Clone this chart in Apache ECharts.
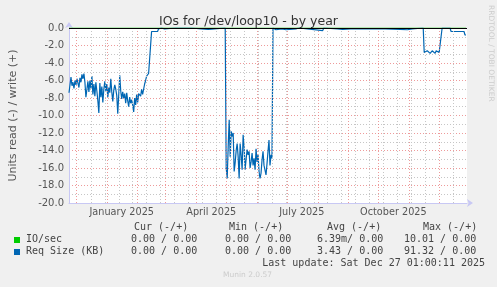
<!DOCTYPE html>
<html>
<head>
<meta charset="utf-8">
<script src="https://cdn.jsdelivr.net/npm/echarts@6/dist/echarts.min.js"></script>
<style>
html, body { margin: 0; padding: 0; background: #f0f0f0; }
#chart { width: 497px; height: 287px; }
</style>
</head>
<body>
<div id="chart"></div>
<script>
// x = days since 2024-11-24, the graph window is 400 days
const monthStarts = [7, 38, 69, 97, 128, 158, 189, 219, 250, 281, 311, 342, 372]
const minorDays = [22, 36, 50, 64, 78, 92, 106, 120, 134, 148, 162, 176, 190, 204, 218, 232, 246, 260, 274, 288, 302, 316, 330, 344, 358, 386]
const labelDays = [53, 143, 234, 326]
const labelNames = ['January 2025', 'April 2025', 'July 2025', 'October 2025']

// req size (read, drawn negative), daily
const winterStart = 0
const winterRead = [
  -7.4, -7.3, -5.6, -6.6, -6.2, -6.9, -6.0, -6.5, -5.8, -6.3,
  -6.8, -5.7, -6.2, -5.3, -5.8, -5.2, -6.2, -7.9, -7.0, -6.1,
  -7.3, -6.0, -6.9, -5.5, -7.6, -6.4, -7.8, -6.2, -7.2, -8.3,
  -9.7, -6.3, -7.9, -6.7, -8.5, -7.0, -6.1, -7.2, -6.4, -7.9,
  -6.8, -7.4, -5.8, -7.3, -8.4, -7.1, -6.5, -7.0, -7.7, -9.8,
  -7.6, -5.4, -7.2, -8.1, -7.3, -8.0, -7.5, -8.6, -7.4, -8.3,
  -9.0, -7.9, -8.6, -8.2, -8.8, -9.6, -8.0, -8.8, -7.6, -8.5,
  -7.5, -7.3, -7.8, -7.0, -7.6, -7.7, -6.4, -6.0, -5.5, -5.4,
  -5.2, -5.3, -5.0
]
const springQuiet = [
  [83, -0.4], [89, -0.4], [90, -0.1], [93, 0], [96, -0.1], [97, 0], [107, 0], [108, -0.2],
  [109, 0], [123, 0], [124, -0.2], [125, 0], [133, -0.1], [134, 0], [140, -0.15], [141, 0],
  [146, -0.1], [147, 0], [157, 0]
]
const aprJunStart = 158
const aprJunRead = [
  -16.0, -17.2, -13.5, -10.5, -14.7, -11.8, -12.4, -12.0, -16.4, -15.4,
  -14.0, -13.2, -14.7, -17.2, -13.2, -14.5, -16.2, -12.2, -13.6, -16.2,
  -15.0, -13.9, -14.5, -14.1, -16.0, -15.3, -14.3, -15.7, -14.9, -16.2,
  -13.8, -15.3, -14.5, -16.4, -17.2, -16.6, -15.1, -14.1, -15.7, -15.9,
  -16.8, -15.5, -14.1, -12.8, -15.7, -14.5, -14.9
]
const summerQuiet = [
  [205, 0], [208, -0.2], [209, 0], [214, -0.1], [215, 0], [218, -0.2], [219, 0], [228, -0.1],
  [230, -0.15], [231, 0], [255, -0.3], [256, 0], [270, -0.1], [272, 0], [275, -0.15], [276, 0],
  [283, -0.1], [284, 0], [300, -0.1], [302, 0], [310, -0.1], [311, 0], [318, -0.1], [319, 0],
  [333, -0.15], [334, 0], [340, -0.2], [341, 0], [345, -0.1], [346, 0], [356, 0]
]
const octStart = 357
const octRead = [-2.8, -2.7, -2.9, -2.6, -2.8, -2.7, -2.9, -2.7, -2.6, -2.8, -2.7, -2.9, -2.6, -2.8, -2.7, -2.8, -2.6, -2.7]
const decTail = [[375, 0], [383, 0], [384, -0.4], [397, -0.4], [398, -0.8], [399, -0.8]]

const ioSec = [[0, 0], [399, 0]]

const legendRows = [
  { name: 'IO/sec', color: '#00cc00', cur: '0.00 / 0.00', min: '0.00 / 0.00', avg: '6.39m/ 0.00', max: '10.01 / 0.00' },
  { name: 'Req Size (KB)', color: '#0066b3', cur: '0.00 / 0.00', min: '0.00 / 0.00', avg: '3.43 / 0.00', max: '91.32 / 0.00' }
]

const reqSize = []
  .concat(winterRead.map((v, i) => [winterStart + i, v]))
  .concat(springQuiet)
  .concat(aprJunRead.map((v, i) => [aprJunStart + i, v]))
  .concat(summerQuiet)
  .concat(octRead.map((v, i) => [octStart + i, v]))
  .concat(decTail)

const axisBlue = '#c8c8f4'
const majorGrid = 'rgba(232,120,120,0.75)'
const minorGrid = '#c6c6c6'
const mono = "'DejaVu Sans Mono', monospace"
const sans = "'DejaVu Sans', sans-serif"

// vertical grid as mark lines (splitLine with customValues drops some of them)
function gridLines(days, color) {
  return days.map(d => ({ xAxis: d, lineStyle: { color: color, width: 1, type: [1, 2] } }))
}

const legendText = []
const cols = { cur: 131, min: 225, avg: 317, max: 404 }
legendText.push(
  { type: 'text', left: 134, top: 222, style: { text: 'Cur (-/+)', font: '10px ' + mono, fill: '#444' } },
  { type: 'text', left: 229, top: 222, style: { text: 'Min (-/+)', font: '10px ' + mono, fill: '#444' } },
  { type: 'text', left: 327, top: 222, style: { text: 'Avg (-/+)', font: '10px ' + mono, fill: '#444' } },
  { type: 'text', left: 423, top: 222, style: { text: 'Max (-/+)', font: '10px ' + mono, fill: '#444' } }
)
legendRows.forEach((r, i) => {
  const y = 234 + i * 12
  legendText.push({ type: 'rect', shape: { x: 14, y: y + 3, width: 6, height: 6 }, style: { fill: r.color } })
  legendText.push({ type: 'text', left: 26, top: y, style: { text: r.name, font: '10px ' + mono, fill: '#444' } })
  for (const k of ['cur', 'min', 'avg', 'max']) {
    legendText.push({ type: 'text', left: cols[k], top: y, style: { text: r[k], font: '10px ' + mono, fill: '#444' } })
  }
})

const option = {
  backgroundColor: '#f0f0f0',
  animation: false,
  title: {
    text: 'IOs for /dev/loop10 - by year',
    left: 'center', top: 10,
    textStyle: { fontFamily: sans, fontSize: 12.5, fontWeight: 'normal', color: '#333' }
  },
  grid: { left: 67, top: 28, width: 400, height: 175, backgroundColor: '#fff', show: true, borderWidth: 0 },
  xAxis: {
    type: 'value', min: 0, max: 400, position: 'bottom',
    axisLine: { show: true, onZero: false, lineStyle: { color: axisBlue }, symbol: ['none', 'arrow'], symbolSize: [6, 6], symbolOffset: [0, 6] },
    axisTick: { show: false },
    splitLine: { show: false },
    axisLabel: {
      show: true, customValues: labelDays, margin: 4,
      fontFamily: sans, fontSize: 9.7, color: '#555',
      formatter: v => labelNames[labelDays.indexOf(v)]
    }
  },
  yAxis: {
    type: 'value', min: -20, max: 0, interval: 2,
    axisLine: { show: true, lineStyle: { color: axisBlue }, symbol: ['none', 'arrow'], symbolSize: [6, 6], symbolOffset: [0, 6] },
    axisTick: { show: false },
    axisLabel: { fontFamily: sans, fontSize: 10, color: '#555', margin: 5, formatter: v => v.toFixed(1) },
    splitLine: { show: true, lineStyle: { color: majorGrid, type: [1, 2] } },
    minorTick: { show: false, splitNumber: 2 },
    minorSplitLine: { show: true, lineStyle: { color: minorGrid, type: [1, 2] } },
    name: 'Units read (-) / write (+)',
    nameLocation: 'middle', nameGap: 50,
    nameTextStyle: { fontFamily: sans, fontSize: 11, color: '#555' }
  },
  series: [
    {
      name: 'grid', type: 'line', data: [], z: 1, silent: true,
      markLine: {
        silent: true, symbol: 'none', label: { show: false }, animation: false,
        data: gridLines(minorDays, minorGrid).concat(gridLines(monthStarts, majorGrid))
      }
    },
    {
      name: 'IO/sec', type: 'line', data: ioSec, showSymbol: false,
      lineStyle: { color: '#00cc00', width: 1 }
    },
    {
      name: 'Req Size (KB)', type: 'line', data: reqSize, showSymbol: false,
      lineStyle: { color: '#0066b3', width: 1.2 },
      markLine: {
        silent: true, symbol: 'none', label: { show: false },
        lineStyle: { color: '#000', width: 1, type: 'solid' },
        data: [{ yAxis: 0 }]
      }
    }
  ],
  graphic: legendText.concat([
    {
      type: 'text', right: 12, top: 258,
      style: { text: 'Last update: Sat Dec 27 01:00:11 2025', font: '10px ' + mono, fill: '#444' }
    },
    {
      type: 'text', left: 223, top: 271,
      style: { text: 'Munin 2.0.57', font: '7.5px ' + sans, fill: '#ccc' }
    },
    {
      type: 'text', x: 495, y: 5, rotation: -Math.PI / 2,
      style: { text: 'RRDTOOL / TOBI OETIKER', font: '7.5px ' + sans, fill: '#ccc' }
    }
  ])
}

const chart = echarts.init(document.getElementById('chart'), null, { renderer: 'canvas' })
chart.setOption(option)
</script>
</body>
</html>
